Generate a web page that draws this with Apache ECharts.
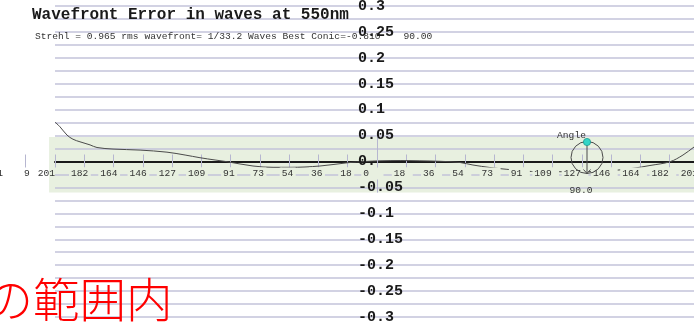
<!DOCTYPE html>
<html>
<head>
<meta charset="utf-8">
<script src="https://cdn.jsdelivr.net/npm/echarts@6/dist/echarts.min.js"></script>
<style>
  html, body { margin: 0; padding: 0; background: #ffffff; }
  #chart { width: 694px; height: 322px; }
</style>
</head>
<body>
<div id="chart"></div>
<script>
// Radial zone width in mm: the 201 mm radius is split into 11 zones.
const ZONE = 201 / 11;

// Tick labels along the aperture, one per zone from -13 to +11.
const xTickLabels = ['1', '9', '201', '182', '164', '146', '127', '109', '91', '73', '54', '36', '18',
  '0', '18', '36', '54', '73', '91', '109', '127', '146', '164', '182', '201'];

// Wavefront axis labels, bottom to top.
const yTickLabels = ['-0.3', '-0.25', '-0.2', '-0.15', '-0.1', '-0.05', '0.',
  '0.05', '0.1', '0.15', '0.2', '0.25', '0.3'];

// Wavefront profile across the mirror: position (mm) and error (waves).
const profileX = [-201.0, -197.9, -193.5, -189.8, -185.4, -179.1, -174.8, -164.8, -147.9, -131.1,
  -119.8, -110.5, -101.1, -93.6, -77.4, -64.9, -54.3, -35.6, -18.1, -7.5,
  1.9, 14.4, 26.8, 39.3, 51.8, 59.9, 70.5, 81.1, 101.7, 122.3,
  143.6, 159.8, 170.4, 182.9, 191.0, 197.9, 201.0];
const profileY = [0.076, 0.067, 0.051, 0.043, 0.038, 0.032, 0.027, 0.024, 0.022, 0.018,
  0.0125, 0.0073, 0.0029, -0.0004, -0.0087, -0.0112, -0.0112, -0.0087, -0.0023, 0.0,
  0.0014, 0.0019, 0.0014, 0.0004, -0.0019, -0.0068, -0.0116, -0.0151, -0.0197, -0.0197,
  -0.0183, -0.0131, -0.0077, -0.0004, 0.0125, 0.028, 0.035];

// Tolerance band (mm across, waves high).
const bandX = [-204.7, 201.0];
const bandY = [-0.06, 0.0475];

// Test summary values.
const strehl = 0.965;
const rmsFraction = 33.2;
const bestConic = -0.810;
const angleDeg = 90.0;

const MONO = '"Liberation Mono", "Courier New", monospace';
const GRID_LINE = '#c3c3da';
const TICK = '#b6b6d0';
const BAND = '#e8f0e0';

const chart = echarts.init(document.getElementById('chart'), null, { renderer: 'canvas' });

const zonePx = (377 - 55) / 11;
const mainLeft = 55 - 2 * zonePx;   // left edge holds zone -13
const rightEdge = -5;               // zone +11 sits just past the frame
const labelShift = 6.5;

function labelStyleKey(i) {
  if (i === 0) return 'a';
  if (i === 1) return 'b';
  if (i === 2) return 'c';
  if (i < 13) return 'l';
  if (i === 13) return 'z';
  return 'r';
}

const baseGrid = { containLabel: false, outerBoundsMode: 'none', show: false };

const option = {
  backgroundColor: '#ffffff',
  animation: false,
  title: [
    {
      text: 'Wavefront Error in waves at 550nm',
      left: 32, top: 7, padding: 0,
      textStyle: { fontFamily: MONO, fontWeight: 'bold', fontSize: 16, color: '#1a1a1a' }
    },
    {
      text: 'Strehl = ' + strehl.toFixed(3) + ' rms wavefront= 1/' + rmsFraction.toFixed(1) +
        ' Waves Best Conic=' + bestConic.toFixed(3) + '    ' + angleDeg.toFixed(2),
      left: 35, top: 31.5, padding: 0,
      textStyle: { fontFamily: MONO, fontWeight: 'normal', fontSize: 9.6, color: '#333333' }
    }
  ],
  grid: [
    // 0: main plot (band, profile, value labels)
    Object.assign({}, baseGrid, { left: mainLeft, right: rightEdge, top: 6, bottom: 5 }),
    // 1: horizontal grid lines and the zero line
    Object.assign({}, baseGrid, { left: 55, right: rightEdge, top: 6, bottom: 5 }),
    // 2: zone ticks crossing the zero line
    Object.assign({}, baseGrid, { left: mainLeft, right: rightEdge, top: 0, bottom: 154.5 }),
    // 3: zone labels
    Object.assign({}, baseGrid, { left: mainLeft + labelShift, right: rightEdge - labelShift, top: 0, bottom: 154.5 })
  ],
  xAxis: [
    {
      gridIndex: 0, type: 'value', min: -13 * ZONE, max: 11 * ZONE, interval: ZONE,
      axisLine: { show: false, onZero: false }, axisTick: { show: false },
      axisLabel: { show: false }, splitLine: { show: false }
    },
    {
      gridIndex: 1, type: 'value', min: -11 * ZONE, max: 11 * ZONE, interval: ZONE, z: 3,
      axisLine: { show: true, onZero: true, lineStyle: { color: '#1a1a1a', width: 2 } },
      axisTick: { show: false }, axisLabel: { show: false }, splitLine: { show: false }
    },
    {
      gridIndex: 2, type: 'value', min: -13 * ZONE, max: 11 * ZONE, interval: ZONE, z: 3,
      position: 'bottom',
      axisLine: { show: false, onZero: false },
      axisTick: { show: true, inside: true, length: 13, lineStyle: { color: TICK, width: 1 } },
      axisLabel: { show: false }, splitLine: { show: false }
    },
    {
      gridIndex: 3, type: 'value', min: -13 * ZONE, max: 11 * ZONE, interval: ZONE, z: 6,
      position: 'bottom',
      axisLine: { show: false, onZero: false }, axisTick: { show: false }, splitLine: { show: false },
      axisLabel: {
        show: true, margin: 0, align: 'right', showMinLabel: true, showMaxLabel: true,
        formatter: function (v) {
          const i = Math.round(v / ZONE) + 13;
          return '{' + labelStyleKey(i) + '|' + xTickLabels[i] + '}';
        },
        rich: {
          a: { fontFamily: MONO, fontSize: 9.6, color: '#333', padding: [1, 0, 1, 0] },
          b: { fontFamily: MONO, fontSize: 9.6, color: '#333', padding: [1, 2.5, 1, 0] },
          c: { fontFamily: MONO, fontSize: 9.6, color: '#333', padding: [1, 6.5, 1, 0] },
          l: { fontFamily: MONO, fontSize: 9.6, color: '#333', padding: [1, 2.5, 1, 2], backgroundColor: BAND },
          z: { fontFamily: MONO, fontSize: 9.6, color: '#333', padding: [1, 14.5, 1, 2], backgroundColor: BAND },
          r: { fontFamily: MONO, fontSize: 9.6, color: '#333', padding: [1, 7.5, 1, 2], backgroundColor: BAND }
        }
      }
    }
  ],
  yAxis: [
    {
      gridIndex: 0, type: 'value', min: -0.3, max: 0.3, interval: 0.05, z: 10,
      position: 'left', offset: -(377 - mainLeft),
      axisLine: { show: false, onZero: false }, axisTick: { show: false }, splitLine: { show: false },
      axisLabel: {
        show: true, align: 'left', margin: 19, showMinLabel: true, showMaxLabel: true,
        fontFamily: MONO, fontWeight: 'bold', fontSize: 15, color: '#1a1a1a',
        formatter: function (v) { return yTickLabels[Math.round((v + 0.3) / 0.05)]; }
      }
    },
    {
      gridIndex: 1, type: 'value', min: -0.3, max: 0.3, interval: 0.025, z: 2,
      axisLine: { show: false }, axisTick: { show: false }, axisLabel: { show: false },
      splitLine: { show: true, lineStyle: { color: GRID_LINE, width: 1.6 } }
    },
    { gridIndex: 2, type: 'value', min: 0, max: 1, show: false },
    { gridIndex: 3, type: 'value', min: 0, max: 1, show: false }
  ],
  series: [
    {
      type: 'line',
      name: 'Wavefront',
      xAxisIndex: 0, yAxisIndex: 0, z: 4,
      data: profileX.map((x, i) => [x, profileY[i]]),
      smooth: 0.35,
      showSymbol: false,
      silent: true,
      lineStyle: { color: '#4a4a4a', width: 1 },
      markArea: {
        silent: true,
        itemStyle: { color: BAND },
        data: [[{ coord: [bandX[0], bandY[1]] }, { coord: [bandX[1], bandY[0]] }]]
      },
      markLine: {
        silent: true,
        symbol: ['none', 'none'],
        label: { show: false },
        lineStyle: { color: TICK, width: 1, type: 'solid' },
        data: [[{ coord: [0, bandY[1]] }, { coord: [0, bandY[0]] }]]
      }
    }
  ],
  graphic: [
    // angle dial
    { type: 'circle', z: 50, shape: { cx: 587, cy: 157.5, r: 16 }, style: { fill: 'none', stroke: '#4a4a4a', lineWidth: 1 } },
    { type: 'line', z: 50, shape: { x1: 587, y1: 145, x2: 587, y2: 173.5 }, style: { stroke: '#4a4a4a', lineWidth: 1 } },
    { type: 'polyline', z: 50, shape: { points: [[583.5, 169.5], [587, 173.5], [590.5, 169.5]] }, style: { fill: 'none', stroke: '#4a4a4a', lineWidth: 1 } },
    { type: 'circle', z: 51, shape: { cx: 587, cy: 142, r: 3.6 }, style: { fill: '#33d5c7', stroke: '#1f9a90', lineWidth: 0.8 } },
    { type: 'text', z: 51, style: { text: 'Angle', x: 571.5, y: 135, align: 'center', verticalAlign: 'middle', fontFamily: MONO, fontSize: 9.6, fill: '#333' } },
    { type: 'text', z: 51, style: { text: angleDeg.toFixed(1), x: 581, y: 190, align: 'center', verticalAlign: 'middle', fontFamily: MONO, fontSize: 9.6, fill: '#333' } },
    // range caption
    { type: 'text', z: 60, style: { text: 'の範囲内', x: -13.5, y: 299, align: 'left', verticalAlign: 'middle', fontFamily: '"Noto Sans CJK JP"', fontWeight: 300, fontSize: 46.5, fill: '#ff0000' } }
  ]
};

chart.setOption(option);
</script>
</body>
</html>
